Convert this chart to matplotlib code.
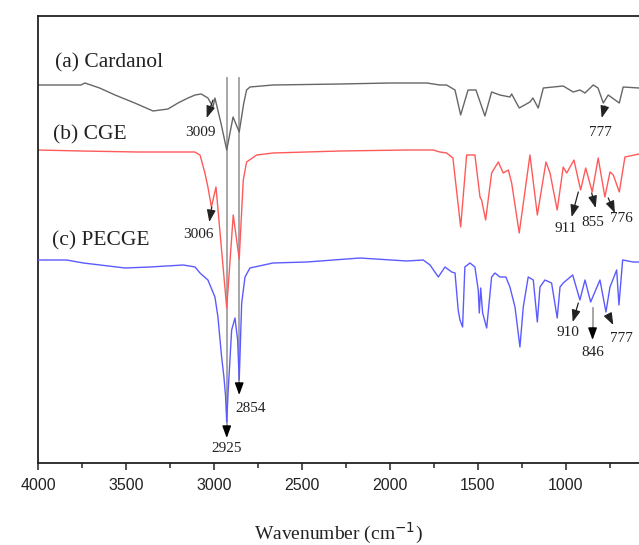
import matplotlib
matplotlib.use("Agg")
import matplotlib.pyplot as plt
from matplotlib.ticker import MultipleLocator

# ---------------- data (wavenumber in cm^-1, offset intensity in arbitrary units) -------------
card_wn = [4000, 3756, 3733, 3650, 3562, 3450, 3346, 3261, 3204, 3147, 3107, 3072, 3034, 3005,
           2994, 2960, 2927, 2891, 2856, 2830, 2814, 2795, 2664, 2283, 2001, 1789, 1715, 1677,
           1629, 1597, 1555, 1510, 1459, 1421, 1374, 1317, 1307, 1264, 1203, 1186, 1156, 1127,
           1014, 957, 919, 890, 843, 816, 786, 758, 695, 673, 583]
card_y = [378, 378, 380, 375, 368, 360, 352, 354, 360, 365, 368, 369, 365, 356,
          365, 340, 313, 346, 331, 360, 373, 376, 378, 379, 380, 380, 378, 378,
          373, 348, 373, 373, 347, 371, 368, 366, 369, 355, 361, 365, 355, 375,
          377, 371, 373, 370, 378, 375, 360, 368, 360, 376, 375]

cge_wn = [4000, 3756, 3432, 3109, 3079, 3051, 3034, 3014, 2988, 2927, 2890, 2856, 2833, 2814,
          2757, 2664, 2283, 1904, 1754, 1715, 1677, 1641, 1597, 1563, 1516, 1487, 1478, 1455,
          1421, 1383, 1355, 1326, 1307, 1264, 1203, 1161, 1112, 1089, 1048, 1014, 994, 953,
          915, 886, 849, 815, 777, 748, 729, 695, 663, 583]
cge_y = [313, 312, 311, 311, 308, 290, 276, 256, 276, 155, 248, 204, 283, 301,
         308, 310, 312, 313, 313, 311, 310, 305, 236, 308, 308, 266, 263, 243,
         290, 301, 290, 293, 280, 230, 308, 248, 301, 290, 253, 296, 290, 303,
         273, 295, 271, 305, 266, 291, 288, 271, 306, 309]

pecge_wn = [3998, 3837, 3742, 3505, 3363, 3174, 3107, 3079, 3034, 2994, 2977, 2956, 2943, 2934,
            2927, 2920, 2899, 2880, 2865, 2856, 2842, 2823, 2795, 2664, 2472, 2169, 1904, 1810,
            1771, 1724, 1686, 1648, 1629, 1611, 1601, 1586, 1573, 1544, 1516, 1497, 1491, 1483,
            1472, 1449, 1421, 1402, 1374, 1340, 1317, 1288, 1260, 1241, 1213, 1184, 1161, 1146,
            1118, 1080, 1048, 1032, 1014, 960, 919, 890, 858, 805, 771, 748, 710, 697, 676, 616,
            583]
pecge_y = [203, 203, 200, 195, 196, 198, 196, 190, 183, 166, 146, 106, 86, 68,
           41, 68, 133, 145, 123, 83, 160, 186, 195, 200, 201, 205, 202, 203,
           198, 186, 196, 191, 190, 153, 143, 136, 196, 200, 196, 173, 150, 175,
           150, 135, 186, 190, 186, 186, 176, 156, 116, 156, 186, 183, 141, 176,
           183, 180, 145, 176, 180, 188, 163, 183, 161, 183, 151, 176, 193, 158, 203, 201,
           201]

series_labels = ["(a) Cardanol", "(b) CGE", "(c) PECGE"]
label_wn = [3905, 3915, 3918]
label_y = [400, 328, 222]

# small peak annotations
peak_text = ["3009", "3006", "777", "911", "855", "776", "910", "777"]
peak_lab_wn = [3079, 3090, 802, 998, 843, 682, 985, 682]
peak_lab_y = [330, 228, 331, 235, 240, 245, 130, 125]
peak_tail_wn = [3005, 3012, 777, 928, 852, 758, 928, 758]
peak_tail_y = [363, 256, 357, 271, 270, 265, 160, 148]
peak_head_wn = [3041, 3026, 795, 966, 829, 720, 960, 729]
peak_head_y = [345, 241, 345, 246, 255, 250, 141, 138]

# long guide-line annotations (2925, 2854, 846)
guide_text = ["2925", "2854", "846"]
guide_wn = [2927, 2856, 847]
guide_top = [385, 385, 155]
guide_arrow_start = [36, 80, 135]
guide_head = [25, 68, 123]
guide_lab_wn = [2928, 2789, 845]
guide_lab_y = [14, 55, 111]

# ---------------- figure ----------------
W, H = 639, 545
fig = plt.figure(figsize=(W / 100, H / 100), dpi=100)
ax = fig.add_axes([38 / W, (H - 463) / H, 1 - 38 / W, 447 / H])

serif = ["Liberation Serif", "DejaVu Serif"]
sans = ["Liberation Sans", "DejaVu Sans"]

for wn, top, start in zip(guide_wn, guide_top, guide_arrow_start):
    ax.plot([wn, wn], [top, start], color="#a0a0a0", lw=1.3, zorder=1)

ax.plot(card_wn, card_y, color="#666666", lw=1.0, zorder=2)
ax.plot(cge_wn, cge_y, color="#ff5a5a", lw=1.0, zorder=2)
ax.plot(pecge_wn, pecge_y, color="#5b5bff", lw=1.0, zorder=3)

arrow_kw = dict(arrowstyle="-|>,head_length=0.6,head_width=0.22", mutation_scale=12,
                shrinkA=0, shrinkB=0)
for wn, start, head in zip(guide_wn, guide_arrow_start, guide_head):
    ax.annotate("", xy=(wn, head), xytext=(wn, start),
                arrowprops=dict(color="black", lw=1.0, **arrow_kw), zorder=4)
for t, lw_, ly in zip(guide_text, guide_lab_wn, guide_lab_y):
    ax.text(lw_, ly, t, family=serif, fontsize=11, ha="center", va="center", color="#222222")

for t, lxw, ly, tx, ty, hx, hy in zip(peak_text, peak_lab_wn, peak_lab_y, peak_tail_wn,
                                       peak_tail_y, peak_head_wn, peak_head_y):
    ax.annotate("", xy=(hx, hy), xytext=(tx, ty),
                arrowprops=dict(color="#222222", lw=0.9, **arrow_kw), zorder=4)
    ax.text(lxw, ly, t, family=serif, fontsize=11, ha="center", va="center", color="#222222")

for t, lw_, ly in zip(series_labels, label_wn, label_y):
    ax.text(lw_, ly, t, family=serif, fontsize=15.5, ha="left", va="center", color="#222222")

ax.set_xlim(4000, 583)
ax.set_ylim(0, 447)
ax.xaxis.set_minor_locator(MultipleLocator(250))
ax.set_xticks([4000, 3500, 3000, 2500, 2000, 1500, 1000])
ax.set_yticks([])
ax.tick_params(axis="x", which="major", direction="out", length=5, width=1.1,
               pad=6, labelsize=11.5, colors="#222222")
ax.tick_params(axis="x", which="minor", direction="out", length=3.5, width=1.1, colors="#222222")
for lab in ax.get_xticklabels():
    lab.set_family(sans)
for s in ["left", "bottom", "top"]:
    ax.spines[s].set_linewidth(1.3)
    ax.spines[s].set_color("#222222")
ax.spines["right"].set_visible(False)

ax.set_xlabel("Wavenumber (cm$^{-1}$)", family=serif, fontsize=14, labelpad=20, color="#222222")
ax.xaxis.label.set_x((338.5 - 38) / (W - 38))

fig.savefig("out.png", dpi=100)
